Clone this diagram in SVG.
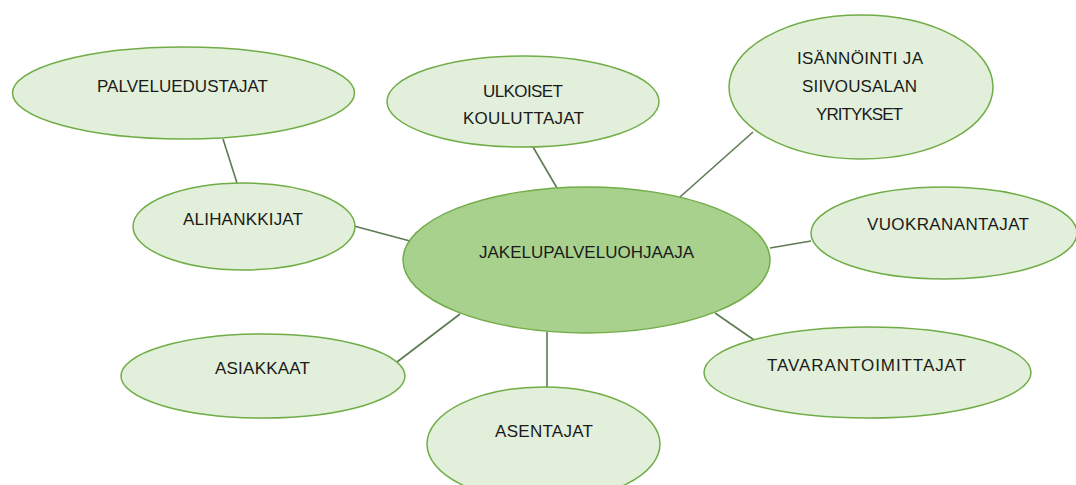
<svg xmlns="http://www.w3.org/2000/svg" width="1076" height="485" viewBox="0 0 1076 485">
  <style>
    .conn { stroke: #5e7a52; stroke-width: 1.6; fill: none; }
    .leaf { fill: #E2EFDA; stroke: #70AD47; stroke-width: 1.5; }
    .hub { fill: #A9D18E; stroke: #70AD47; stroke-width: 1.5; }
    .lbl { font-family: "Liberation Sans", Arial, sans-serif; font-size: 17px; fill: #1a1a1a; text-anchor: middle; }
  </style>
  <rect width="1076" height="485" fill="#ffffff"/>
  <g id="connectors">
    <line class="conn" x1="223" y1="139" x2="237" y2="183"/>
    <line class="conn" x1="533" y1="147" x2="557" y2="188"/>
    <line class="conn" x1="680" y1="197" x2="753" y2="132"/>
    <line class="conn" x1="354" y1="226" x2="410" y2="241"/>
    <line class="conn" x1="770" y1="248" x2="811" y2="241"/>
    <line class="conn" x1="715" y1="313" x2="757" y2="342"/>
    <line class="conn" x1="547" y1="332" x2="547" y2="388"/>
    <line class="conn" x1="397" y1="362" x2="460" y2="314"/>
  </g>
  <g id="palveluedustajat">
    <ellipse class="leaf" cx="183.5" cy="93" rx="171" ry="46"/>
    <text class="lbl" x="182.5" y="92" textLength="171">PALVELUEDUSTAJAT</text>
  </g>
  <g id="ulkoiset-kouluttajat">
    <ellipse class="leaf" cx="523" cy="101.5" rx="136" ry="45.5"/>
    <text class="lbl" x="523" y="97" textLength="80">ULKOISET</text>
    <text class="lbl" x="523.5" y="124" textLength="121">KOULUTTAJAT</text>
  </g>
  <g id="isannointi">
    <ellipse class="leaf" cx="861" cy="87" rx="132" ry="72"/>
    <text class="lbl" x="860" y="64" textLength="126">ISÄNNÖINTI JA</text>
    <text class="lbl" x="859.5" y="92" textLength="115">SIIVOUSALAN</text>
    <text class="lbl" x="859.5" y="120" textLength="87">YRITYKSET</text>
  </g>
  <g id="alihankkijat">
    <ellipse class="leaf" cx="244" cy="226.5" rx="111" ry="43.5"/>
    <text class="lbl" x="243" y="225" textLength="120">ALIHANKKIJAT</text>
  </g>
  <g id="jakelupalveluohjaaja">
    <ellipse class="hub" cx="586.5" cy="260" rx="183.5" ry="73"/>
    <text class="lbl" x="586.5" y="258" textLength="215">JAKELUPALVELUOHJAAJA</text>
  </g>
  <g id="vuokranantajat">
    <ellipse class="leaf" cx="944" cy="233" rx="133" ry="46"/>
    <text class="lbl" x="948" y="230" textLength="162">VUOKRANANTAJAT</text>
  </g>
  <g id="asiakkaat">
    <ellipse class="leaf" cx="263" cy="376" rx="142" ry="42"/>
    <text class="lbl" x="262.5" y="374" textLength="95">ASIAKKAAT</text>
  </g>
  <g id="asentajat">
    <ellipse class="leaf" cx="543.5" cy="444" rx="116.5" ry="57"/>
    <text class="lbl" x="544" y="437" textLength="98">ASENTAJAT</text>
  </g>
  <g id="tavarantoimittajat">
    <ellipse class="leaf" cx="867.5" cy="372.5" rx="163.5" ry="45.5"/>
    <text class="lbl" x="866.5" y="371" textLength="199">TAVARANTOIMITTAJAT</text>
  </g>
</svg>
